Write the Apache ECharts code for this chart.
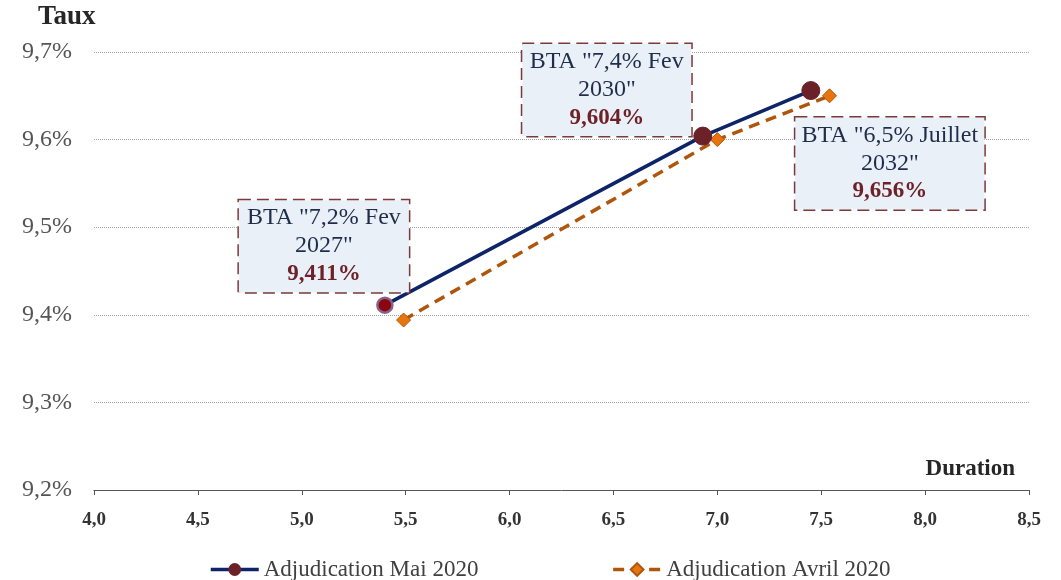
<!DOCTYPE html>
<html>
<head>
<meta charset="utf-8">
<script src="https://cdn.jsdelivr.net/npm/echarts@6/dist/echarts.min.js"></script>
<style>
  html, body { margin: 0; padding: 0; background: #ffffff; }
  #chart { width: 1061px; height: 580px; }
</style>
</head>
<body>
<div id="chart"></div>
<script>
// Yield curve points: duration (years) vs. rate (%)
const maiDuration   = [5.40, 6.93, 7.45];
const maiTaux       = [9.411, 9.604, 9.656];
const avrilDuration = [5.49, 7.00, 7.54];
const avrilTaux     = [9.394, 9.600, 9.650];
const bondNames     = ['BTA "7,2% Fev\n2027"', 'BTA "7,4% Fev\n2030"', 'BTA "6,5% Juillet\n2032"'];
const seriesNames   = ['Adjudication Mai 2020', 'Adjudication Avril 2020'];

// Annotation box placement relative to each point
const boxLayout = [
  { offset: [-61, -59], width: 158 },
  { offset: [-96, -46], width: 157 },
  { offset: [79, 73],   width: 177 }
];

const SERIF = '"Liberation Serif", "DejaVu Serif", serif';
const fmtPct = (v, d) => v.toFixed(d).replace('.', ',') + '%';

const maiData = maiDuration.map((x, i) => {
  const lay = boxLayout[i];
  const item = {
    value: [x, maiTaux[i]],
    label: {
      show: true,
      position: 'inside',
      offset: lay.offset,
      width: lay.width,
      formatter: () => bondNames[i].split('\n').map(s => '{t|' + s + '}').join('\n') + '\n{v|' + fmtPct(maiTaux[i], 3) + '}'
    }
  };
  if (i === 0) {
    item.itemStyle = { color: '#8a0610', borderColor: '#8a6088', borderWidth: 2.5 };
    item.symbolSize = 15;
  }
  return item;
});

const chart = echarts.init(document.getElementById('chart'));
chart.setOption({
  animation: false,
  backgroundColor: '#ffffff',
  grid: { left: 94, right: 32, top: 52, bottom: 90 },
  xAxis: {
    type: 'value',
    min: 4.0, max: 8.5, interval: 0.5,
    axisLine: { show: true, lineStyle: { color: '#555555', width: 1 } },
    axisTick: { show: true, inside: false, length: 5, lineStyle: { color: '#555555' } },
    splitLine: { show: false },
    axisLabel: {
      margin: 21,
      fontFamily: SERIF, fontSize: 19, fontWeight: 'bold', color: '#333333',
      formatter: v => v.toFixed(1).replace('.', ',')
    }
  },
  yAxis: {
    type: 'value',
    min: 9.2, max: 9.7, interval: 0.1,
    axisLine: { show: false },
    axisTick: { show: false },
    splitLine: { show: true, lineStyle: { color: '#a0a0a0', type: 'dotted', width: 1 } },
    axisLabel: {
      margin: 22,
      fontFamily: SERIF, fontSize: 24, color: '#555555',
      formatter: v => fmtPct(v, 1)
    }
  },
  legend: {
    top: 553,
    left: 204,
    itemWidth: 48,
    itemHeight: 16,
    itemGap: 133,
    lineStyle: { width: 3.5 },
    textStyle: { fontFamily: SERIF, fontSize: 23, color: '#404040' },
    data: seriesNames
  },
  graphic: [
    { type: 'text', left: 38, top: 4, style: { text: 'Taux', font: 'bold 27px ' + SERIF, fill: '#262626' } },
    { type: 'text', right: 46, top: 458, style: { text: 'Duration', font: 'bold 23px ' + SERIF, fill: '#262626' } }
  ],
  series: [
    {
      name: seriesNames[0],
      type: 'line',
      z: 3,
      data: maiData,
      symbol: 'circle',
      symbolSize: 18,
      lineStyle: { color: '#0e2468', width: 3.5 },
      itemStyle: { color: '#6a2228', borderColor: '#6a2228' },
      label: {
        backgroundColor: '#eaf0f8',
        borderColor: '#7a3a3a',
        borderType: 'dashed',
        borderWidth: 1.5,
        padding: [4, 6, 4, 6],
        align: 'center',
        verticalAlign: 'middle',
        rich: {
          t: { fontFamily: SERIF, fontSize: 24, color: '#1f2d4a', lineHeight: 28, align: 'center' },
          v: { fontFamily: SERIF, fontSize: 23, fontWeight: 'bold', color: '#6e2228', lineHeight: 28, align: 'center' }
        }
      }
    },
    {
      name: seriesNames[1],
      type: 'line',
      z: 2,
      data: avrilDuration.map((x, i) => [x, avrilTaux[i]]),
      symbol: 'diamond',
      symbolSize: 14,
      lineStyle: { color: '#b0560c', width: 3.5, type: [11, 7] },
      itemStyle: { color: '#e8740f', borderColor: '#b0560c', borderWidth: 1 }
    }
  ]
});
</script>
</body>
</html>
